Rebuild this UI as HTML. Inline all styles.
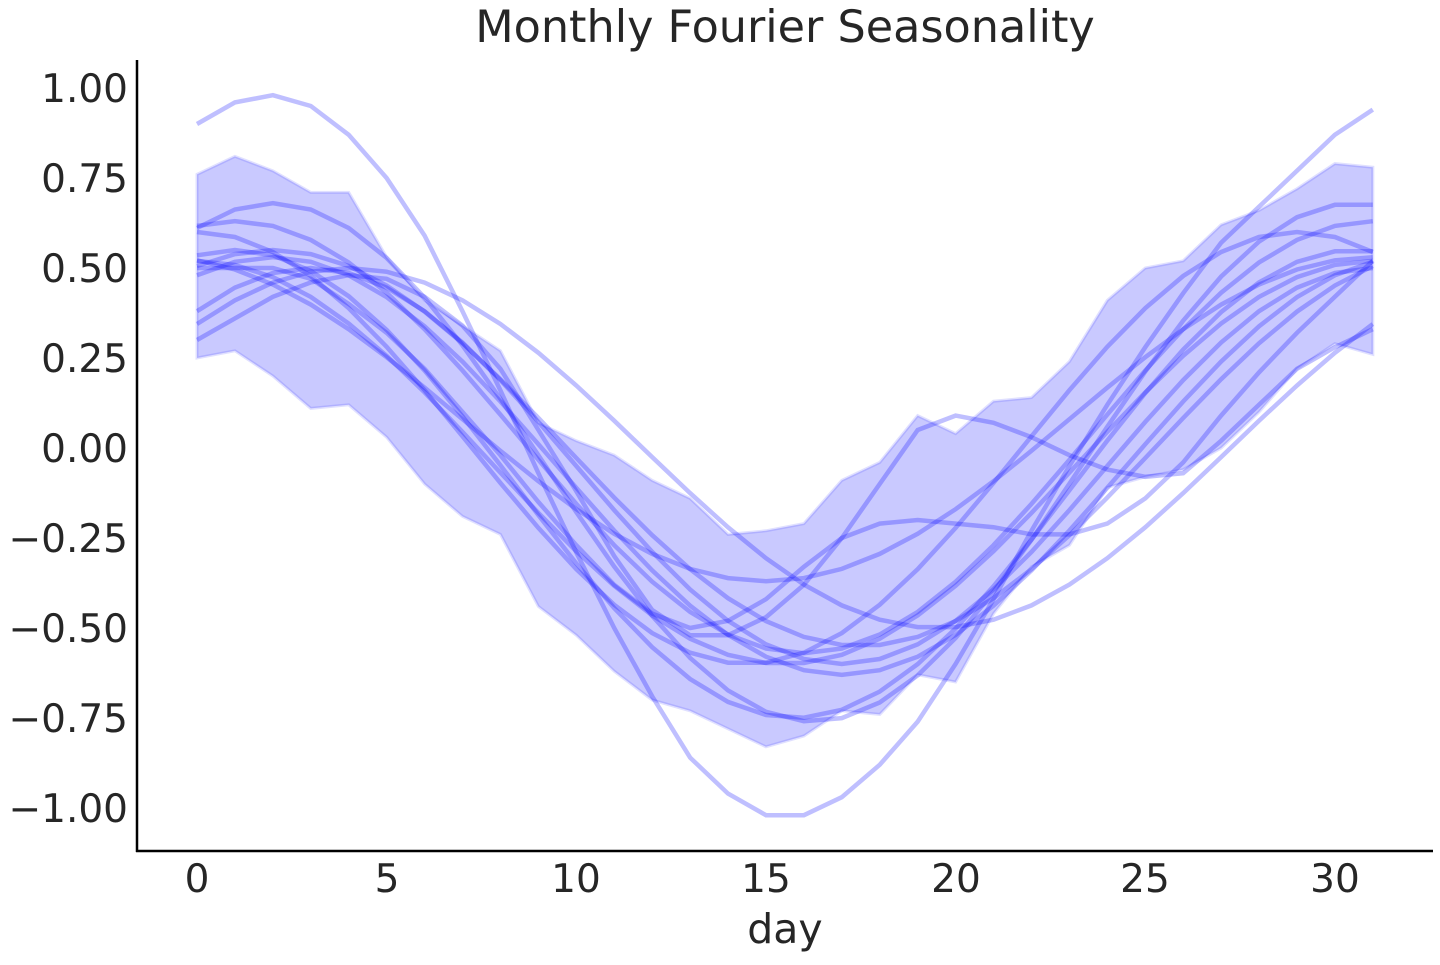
<!DOCTYPE html>
<html><head><meta charset="utf-8"><style>
html,body{margin:0;padding:0;background:#fff;}
svg text{font-family:"DejaVu Sans","Liberation Sans",sans-serif;fill:#262626;}
</style></head><body>
<svg id="s" width="1440" height="960" xmlns="http://www.w3.org/2000/svg">
<rect width="1440" height="960" fill="#fff"/>
<g id="plot"></g>
<line x1="137" y1="60" x2="137" y2="852" stroke="#000" stroke-width="2.5"/>
<line x1="136" y1="851" x2="1433" y2="851" stroke="#000" stroke-width="2.5"/>
<text x="785" y="42" font-size="44.5" text-anchor="middle">Monthly Fourier Seasonality</text>
<text x="785" y="943" font-size="41" text-anchor="middle">day</text>
<g font-size="39" text-anchor="middle">
<text x="197" y="892">0</text><text x="387" y="892">5</text><text x="576" y="892">10</text>
<text x="766" y="892">15</text><text x="956" y="892">20</text><text x="1145" y="892">25</text><text x="1335" y="892">30</text>
</g>
<g font-size="39" text-anchor="end">
<text x="128" y="102">1.00</text><text x="128" y="192">0.75</text><text x="128" y="282">0.50</text>
<text x="128" y="372">0.25</text><text x="128" y="462">0.00</text><text x="128" y="552">−0.25</text>
<text x="128" y="642">−0.50</text><text x="128" y="732">−0.75</text><text x="128" y="822">−1.00</text>
</g>
</svg>
<script>
var X=function(d){return 197+37.93*d},Y=function(v){return 448-360*v};
var up=[0.76,0.81,0.77,0.71,0.71,0.53,0.41,0.34,0.27,0.07,0.02,-0.02,-0.09,-0.14,-0.24,-0.23,-0.21,-0.09,-0.04,0.09,0.04,0.13,0.14,0.24,0.41,0.50,0.52,0.62,0.66,0.72,0.79,0.78];
var lo=[0.25,0.27,0.20,0.11,0.12,0.03,-0.10,-0.19,-0.24,-0.44,-0.52,-0.62,-0.70,-0.73,-0.78,-0.83,-0.80,-0.73,-0.74,-0.63,-0.65,-0.46,-0.33,-0.27,-0.11,-0.08,-0.06,0.0,0.10,0.22,0.29,0.26];
var p="";for(var i=0;i<32;i++)p+=(i?"L":"M")+X(i)+","+Y(up[i]);
for(var i=31;i>=0;i--)p+="L"+X(i)+","+Y(lo[i]);p+="Z";
var h='<path d="'+p+'" fill="#0000ff" fill-opacity="0.21" stroke="#0000ff" stroke-opacity="0.12" stroke-width="3"/>';
function line(vals){var s="";vals.forEach(function(v,d){s+=(d?"L":"M")+X(d).toFixed(1)+","+Y(v).toFixed(1);});
h+='<path d="'+s+'" fill="none" stroke="#0000ff" stroke-opacity="0.25" stroke-width="4.5"/>';}
line([0.90,0.96,0.98,0.95,0.87,0.75,0.59,0.38,0.16,-0.07,-0.29,-0.50,-0.69,-0.86,-0.96,-1.02,-1.02,-0.97,-0.88,-0.76,-0.60,-0.42,-0.23,-0.05,0.12,0.28,0.43,0.57,0.67,0.77,0.87,0.94]);
var P=[[0.72,2,28.5,-0.04],[0.6,0,29,0],[0.6,1,30,0.03],[0.55,3,28,-0.05],[0.5,4,31,0],[0.56,0,31,-0.04],[0.65,1,29.5,-0.1],[0.55,2,31,0],[0.45,-1,32,0.08],[0.58,2,30,-0.05]];
P.forEach(function(q){var a=[];for(var d=0;d<32;d++)a.push(q[0]*Math.cos(2*Math.PI*(d-q[1])/q[2])+q[3]);line(a);});
line([0.5,0.5,0.5,0.47,0.4,0.32,0.22,0.1,-0.02,-0.15,-0.27,-0.38,-0.46,-0.5,-0.48,-0.42,-0.33,-0.25,-0.21,-0.2,-0.21,-0.22,-0.24,-0.24,-0.21,-0.14,-0.04,0.09,0.21,0.32,0.42,0.52]);
line([0.3,0.36,0.42,0.46,0.48,0.47,0.42,0.34,0.22,0.05,-0.12,-0.3,-0.45,-0.52,-0.52,-0.47,-0.38,-0.25,-0.1,0.05,0.09,0.07,0.03,-0.02,-0.06,-0.08,-0.07,0.02,0.12,0.22,0.28,0.33]);
document.getElementById("plot").innerHTML=h;
</script>
</body></html>
